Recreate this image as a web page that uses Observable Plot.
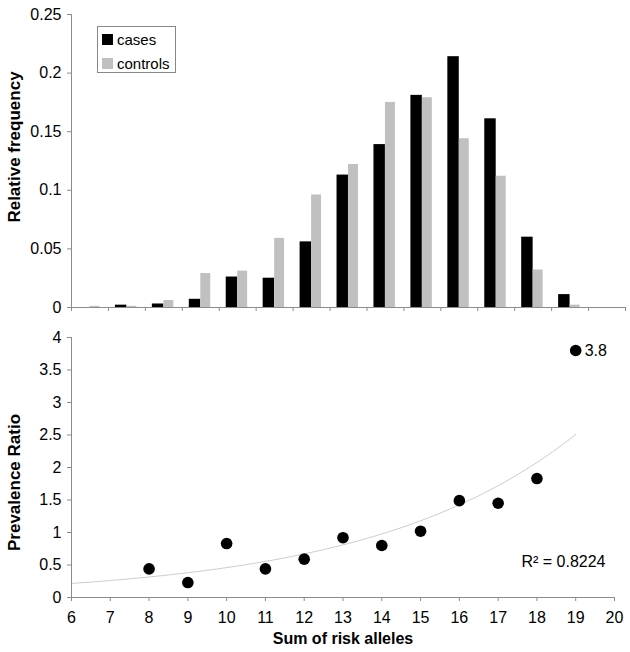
<!DOCTYPE html>
<html>
<head>
<meta charset="utf-8">
<script src="https://cdn.jsdelivr.net/npm/d3@7"></script>
<script src="https://cdn.jsdelivr.net/npm/@observablehq/plot@0.6"></script>
<style>
  body { margin: 0; background: #fff; font-family: "Liberation Sans", Arial, sans-serif; }
  #chart { position: relative; width: 630px; height: 652px; background: #fff; }
  #chart svg { display: block; }
  .legend { position: absolute; left: 97px; top: 26px; width: 79px; height: 47px; box-sizing: border-box;
            border: 1px solid #888; background: #fff; font-size: 15px; color: #000; }
  .legend .row { position: absolute; left: 4px; display: flex; align-items: center; height: 12px; }
  .legend .sw { width: 11px; height: 11px; margin-right: 4px; }
</style>
</head>
<body>
<div id="chart"></div>
<script>
// ---- data ----
const alleles       = [6, 7, 8, 9, 10, 11, 12, 13, 14, 15, 16, 17, 18, 19];
const casesFreq     = [0, 0.002, 0.003, 0.007, 0.026, 0.025, 0.056, 0.113, 0.139, 0.181, 0.214, 0.161, 0.060, 0.011];
const controlsFreq  = [0.001, 0.001, 0.006, 0.029, 0.031, 0.059, 0.096, 0.122, 0.175, 0.179, 0.144, 0.112, 0.032, 0.002];
const ratioAlleles  = [8, 9, 10, 11, 12, 13, 14, 15, 16, 17, 18, 19];
const prevalenceRatio = [0.44, 0.23, 0.83, 0.44, 0.59, 0.92, 0.80, 1.02, 1.49, 1.45, 1.83, 3.8];
const freqTicks     = [0, 0.05, 0.1, 0.15, 0.2, 0.25];
const ratioTicks    = [0, 0.5, 1, 1.5, 2, 2.5, 3, 3.5, 4];
const alleleTicks   = [6, 7, 8, 9, 10, 11, 12, 13, 14, 15, 16, 17, 18, 19, 20];
const freqDomainX   = [6, 21];
const ratioDomainX  = [6, 20];
const seriesNames   = ["cases", "controls"];
const seriesColors  = ["#000000", "#c0c0c0"];
const r2Label       = "R\u00B2 = 0.8224";

// ---- derived tables ----
const freqData = alleles.map((k, i) => ({k, cases: casesFreq[i], controls: controlsFreq[i]}));
const ratioData = ratioAlleles.map((k, i) => ({k, ratio: prevalenceRatio[i]}));

// exponential trendline fitted (least squares on ln) to the ratio data
const lny = prevalenceRatio.map(Math.log);
const mx = d3.mean(ratioAlleles), my = d3.mean(lny);
const bFit = d3.sum(ratioAlleles, (x, i) => (x - mx) * (lny[i] - my)) / d3.sum(ratioAlleles, x => (x - mx) ** 2);
const aFit = Math.exp(my - bFit * mx);
const trend = d3.range(ratioDomainX[0], d3.max(ratioAlleles) + 0.001, 0.1).map(x => ({x, y: aFit * Math.exp(bFit * x)}));

const font = "'Liberation Sans', Arial, sans-serif";
const axisGray = "#8c8c8c";

const topChart = Plot.plot({
  width: 630, height: 322,
  marginLeft: 71, marginRight: 5, marginTop: 14, marginBottom: 15,
  style: {fontFamily: font, fontSize: "16px", color: "#000", background: "#fff"},
  x: {domain: freqDomainX},
  y: {domain: [0, 0.25]},
  marks: [
    Plot.rectY(freqData, {x: "k", interval: 1, y: "cases", fill: seriesColors[0], insetLeft: 7, insetRight: 18.5}),
    Plot.rectY(freqData, {x: "k", interval: 1, y: "controls", fill: seriesColors[1], insetLeft: 18.5, insetRight: 8.5}),
    Plot.ruleY([0], {stroke: axisGray}),
    Plot.ruleX([freqDomainX[0]], {stroke: axisGray}),
    Plot.axisY({ticks: freqTicks, tickFormat: d => String(d), tickSize: 4, tickPadding: 6, stroke: axisGray, fill: "#000", label: null, fontSize: 16}),
    Plot.axisX({ticks: d3.range(freqDomainX[0], freqDomainX[1] + 1), tickFormat: () => "", tickSize: 4, stroke: axisGray, label: null}),
    Plot.text(["Relative frequency"], {frameAnchor: "left", textAnchor: "middle", rotate: -90, dx: -57, dy: -14, fontWeight: "bold", fontSize: 17, fill: "#000"})
  ]
});

const bottomChart = Plot.plot({
  width: 630, height: 330,
  marginLeft: 71, marginRight: 16, marginTop: 15, marginBottom: 55,
  style: {fontFamily: font, fontSize: "16px", color: "#000", background: "#fff"},
  x: {domain: ratioDomainX},
  y: {domain: [0, 4]},
  marks: [
    Plot.line(trend, {x: "x", y: "y", stroke: "#cccccc", strokeWidth: 1}),
    Plot.ruleY([0], {stroke: axisGray}),
    Plot.ruleX([ratioDomainX[0]], {stroke: axisGray}),
    Plot.axisY({ticks: ratioTicks, tickFormat: d => String(d), tickSize: 4, tickPadding: 6, stroke: axisGray, fill: "#000", label: null, fontSize: 16}),
    Plot.axisX({ticks: alleleTicks, tickFormat: d => String(d), tickSize: 4, tickPadding: 10, stroke: axisGray, fill: "#000", label: null, fontSize: 16}),
    Plot.dot(ratioData, {x: "k", y: "ratio", r: 5.8, fill: "#000", stroke: "none"}),
    Plot.text(ratioData.filter(d => d.k === d3.max(ratioAlleles)), {x: "k", y: "ratio", text: d => String(d.ratio), dx: 9, textAnchor: "start", fontSize: 16, fill: "#000"}),
    Plot.text([r2Label], {frameAnchor: "bottom-right", dx: -9, dy: -31, textAnchor: "end", fontSize: 16, fill: "#000"}),
    Plot.text(["Prevalence Ratio"], {frameAnchor: "left", textAnchor: "middle", rotate: -90, dx: -57, dy: 15, fontWeight: "bold", fontSize: 17, fill: "#000"}),
    Plot.text(["Sum of risk alleles"], {frameAnchor: "bottom", dy: 46, fontWeight: "bold", fontSize: 16, fill: "#000"})
  ]
});

const chart = document.getElementById("chart");
chart.appendChild(topChart);
chart.appendChild(bottomChart);

// legend
const legend = document.createElement("div");
legend.className = "legend";
seriesNames.forEach((name, i) => {
  const row = document.createElement("div");
  row.className = "row";
  row.style.top = (i === 0 ? 6 : 30) + "px";
  const sw = document.createElement("div");
  sw.className = "sw";
  sw.style.background = seriesColors[i];
  const label = document.createElement("span");
  label.textContent = name;
  row.appendChild(sw);
  row.appendChild(label);
  legend.appendChild(row);
});
chart.appendChild(legend);
</script>
</body>
</html>
